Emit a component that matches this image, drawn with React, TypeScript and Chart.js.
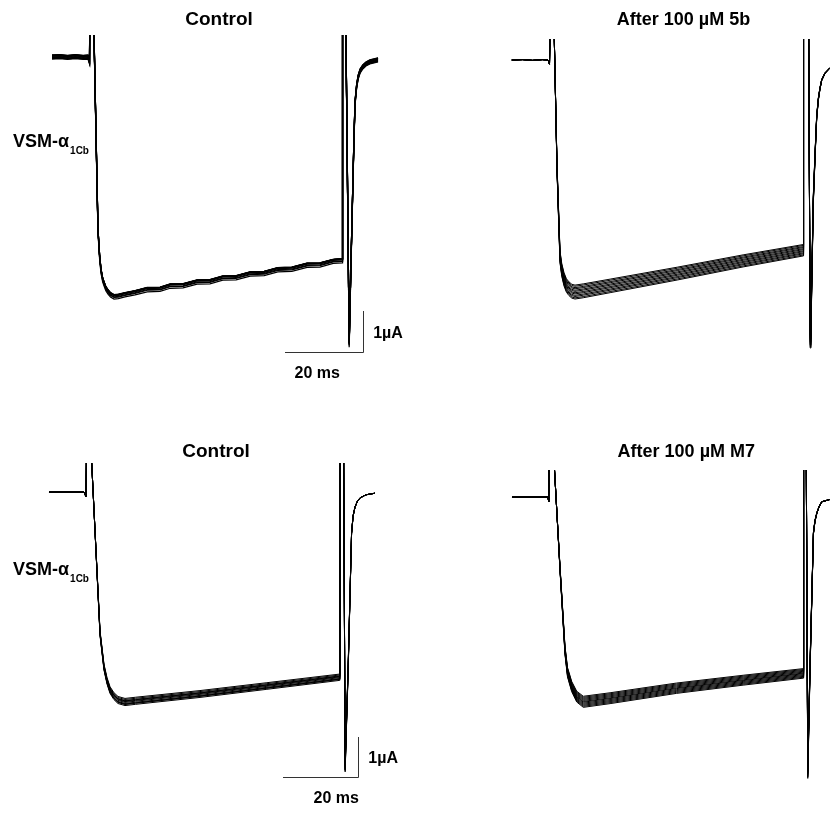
import React, { useEffect, useRef } from "react";
import { Chart, registerables } from "chart.js";
Chart.register(...registerables);

// ---------------- data (time in ms, current in µA) ----------------
const TL_TIME = [-10, -8, -6, -4, -2, -0.77, -0.38, -0.18, 0.6, 0.77, 1.79, 2.2, 2.56, 3.0, 3.33, 3.8, 4.36, 5.0, 5.9, 7.0, 8.7, 11.3, 14.4, 17.7, 20.3, 23.6, 27.2, 30.5, 33.8, 37.2, 40.8, 44.4, 47.9, 51.5, 55.4, 58.7, 62.1, 64.4, 64.5, 65.1, 66.2, 66.6, 67.05, 67.4, 67.7, 68.1, 68.5, 69.0, 69.7, 70.5, 71.5, 73.6];
const TL_CURRENT = [0, 0.01, -0.01, 0.01, -0.01, 0, -0.12, 3, 3, 0.54, -4.22, -4.85, -5.2, -5.42, -5.51, -5.63, -5.71, -5.78, -5.83, -5.82, -5.78, -5.73, -5.654, -5.646, -5.568, -5.56, -5.468, -5.46, -5.372, -5.364, -5.272, -5.26, -5.168, -5.156, -5.06, -5.052, -4.964, -4.95, 3, 3, -7.0, -5.3, -3.49, -2.1, -1.12, -0.72, -0.49, -0.34, -0.24, -0.17, -0.12, -0.07];
const TL_SWEEP_SCALE = [1.006, 1.004, 1.002, 1.0, 0.998, 0.996, 0.994, 1.001, 0.999, 1.003];
const TL_SWEEP_OFFSET = [0.05, -0.05, 0.035, -0.035, 0.015, -0.015, 0.0, 0.025, -0.025, 0.045];

const TR_TIME = [-10.3, -7.5, -5, -2.5, -1.03, -0.64, -0.13, 0.44, 0.59, 1.28, 2.05, 2.5, 3.08, 3.7, 4.36, 5.1, 5.9, 8.0, 14.9, 32.1, 49.0, 64.4, 64.5, 65.7, 66.2, 66.4, 67.0, 67.5, 67.87, 68.3, 68.7, 69.15, 70.0, 71.3, 73.5, 76.4];
const TR_CURRENT = [0, 0.01, -0.01, 0.01, 0, -0.1, 3, 3, 0.51, -2.61, -4.8, -5.12, -5.35, -5.5, -5.58, -5.64, -5.66, -5.63, -5.51, -5.21, -4.9, -4.64, 3, 3, -6.82, -6.45, -3.41, -2.2, -1.39, -0.95, -0.7, -0.49, -0.32, -0.19, -0.1, -0.05];
const TR_SWEEP_SCALE = [1.03, 1.025, 1.019, 1.014, 1.008, 1.003, 0.997, 0.992, 0.986, 0.981, 0.975, 0.97];
const TR_SWEEP_OFFSET = [0, 0, 0, 0, 0, 0, 0, 0, 0, 0, 0, 0];

const BL_TIME = [-10.85, -1.59, -1.06, -0.71, 0.19, 0.45, 2.65, 3.7, 4.5, 5.29, 6.3, 7.41, 9.26, 12.0, 29.1, 46.8, 66.1, 66.2, 67.0, 67.5, 68.3, 69.2, 69.6, 70.1, 70.7, 71.4, 73.0, 75.4];
const BL_CURRENT = [0, 0, -0.12, 3, 3, 0.73, -3.53, -4.38, -4.72, -4.95, -5.1, -5.2, -5.25, -5.22, -5.05, -4.85, -4.63, 3, 3, -6.88, -4.38, -1.03, -0.6, -0.38, -0.24, -0.15, -0.07, -0.03];
const BL_SWEEP_SCALE = [1.017, 1.012, 1.007, 1.002, 0.998, 0.993, 0.988, 0.983, 1.01, 0.995];
const BL_SWEEP_OFFSET = [0, 0, 0, 0, 0, 0, 0, 0, 0, 0];

const BR_TIME = [-10.85, -1.32, -1.14, -0.79, 0.13, 0.4, 1.85, 3.17, 3.84, 4.95, 6.27, 8.02, 15.1, 32.7, 50.3, 66.2, 66.3, 66.9, 67.4, 68.0, 68.9, 69.3, 69.8, 70.4, 71.1, 73.3, 77.2];
const BR_CURRENT = [0, 0, -0.12, 3, 3, 0.68, -1.78, -3.83, -4.38, -4.74, -4.99, -5.12, -5.03, -4.78, -4.58, -4.41, 3, 3, -6.85, -4.24, -0.9, -0.6, -0.4, -0.24, -0.12, -0.06, -0.03];
const BR_SWEEP_SCALE = [1.027, 1.022, 1.017, 1.012, 1.007, 1.002, 0.998, 0.993, 0.988, 0.983, 0.978, 0.973];
const BR_SWEEP_OFFSET = [0, 0, 0, 0, 0, 0, 0, 0, 0, 0, 0, 0];

const TITLES = ["Control", "After 100 µM 5b", "Control", "After 100 µM M7"];
const ROW_LABEL = "VSM-α";
const ROW_LABEL_SUB = "1Cb";
const BAR_MS = 20;
const BAR_UA = 1;
const BAR_MS_LABEL = "20 ms";
const BAR_UA_LABEL = "1µA";
// scale-bar corner (time ms, current µA)
const TL_BAR_CORNER = [69.8, -7.19];
const BL_BAR_CORNER = [70.98, -7.12];

// ---------------- layout ----------------
type PanelCfg = {
  left: number; top: number; width: number; height: number;
  originX: number; originY: number; pxPerMs: number; pxPerUA: number; clipTop: number;
  time: number[]; current: number[]; sweepScale: number[]; sweepOffset: number[];
  title: string; titleSize: number; titleX: number; titleY: number;
  label?: { x: number; y: number };
  bar?: { corner: number[]; msDx: number };
  lineWidth: number;
};

const FONT = '"Liberation Sans", Arial, Helvetica, sans-serif';

const PANELS: PanelCfg[] = [
  {
    left: 0, top: 0, width: 415, height: 400,
    originX: 91, originY: 57, pxPerMs: 3.9, pxPerUA: 41, clipTop: 35,
    time: TL_TIME, current: TL_CURRENT, sweepScale: TL_SWEEP_SCALE, sweepOffset: TL_SWEEP_OFFSET,
    title: TITLES[0], titleSize: 19, titleX: 219, titleY: 25,
    label: { x: 13, y: 147 },
    bar: { corner: TL_BAR_CORNER, msDx: -46 },
    lineWidth: 1.25,
  },
  {
    left: 415, top: 0, width: 415, height: 400,
    originX: 137, originY: 60, pxPerMs: 3.9, pxPerUA: 41, clipTop: 39,
    time: TR_TIME, current: TR_CURRENT, sweepScale: TR_SWEEP_SCALE, sweepOffset: TR_SWEEP_OFFSET,
    title: TITLES[1], titleSize: 18, titleX: 268.5, titleY: 25,
    lineWidth: 1,
  },
  {
    left: 0, top: 400, width: 415, height: 413,
    originX: 90, originY: 92, pxPerMs: 3.78, pxPerUA: 40, clipTop: 63,
    time: BL_TIME, current: BL_CURRENT, sweepScale: BL_SWEEP_SCALE, sweepOffset: BL_SWEEP_OFFSET,
    title: TITLES[2], titleSize: 19, titleX: 216, titleY: 57,
    label: { x: 13, y: 175 },
    bar: { corner: BL_BAR_CORNER, msDx: -22 },
    lineWidth: 1,
  },
  {
    left: 415, top: 400, width: 415, height: 413,
    originX: 138, originY: 97, pxPerMs: 3.78, pxPerUA: 40, clipTop: 70,
    time: BR_TIME, current: BR_CURRENT, sweepScale: BR_SWEEP_SCALE, sweepOffset: BR_SWEEP_OFFSET,
    title: TITLES[3], titleSize: 18, titleX: 271.3, titleY: 57,
    lineWidth: 1,
  },
];

function makeDecorPlugin(cfg: PanelCfg) {
  return {
    id: "decor",
    afterDraw(chart: any) {
      const ctx = chart.ctx as CanvasRenderingContext2D;
      const xs = chart.scales.x;
      const ys = chart.scales.y;
      ctx.save();
      ctx.fillStyle = "#000";
      ctx.font = `bold ${cfg.titleSize}px ${FONT}`;
      ctx.textAlign = "center";
      ctx.textBaseline = "alphabetic";
      ctx.fillText(cfg.title, cfg.titleX, cfg.titleY);
      if (cfg.label) {
        ctx.textAlign = "left";
        ctx.font = `bold 18px ${FONT}`;
        ctx.fillText(ROW_LABEL, cfg.label.x, cfg.label.y);
        const w = ctx.measureText(ROW_LABEL).width;
        ctx.font = `bold 10px ${FONT}`;
        ctx.fillText(ROW_LABEL_SUB, cfg.label.x + w + 1, cfg.label.y + 7);
      }
      if (cfg.bar) {
        const [ct, ci] = cfg.bar.corner;
        const cx = xs.getPixelForValue(ct);
        const cy = ys.getPixelForValue(ci);
        const lx = xs.getPixelForValue(ct - BAR_MS);
        const ty = ys.getPixelForValue(ci + BAR_UA);
        ctx.strokeStyle = "#333";
        ctx.lineWidth = 1;
        ctx.beginPath();
        ctx.moveTo(Math.round(lx), Math.round(cy) + 0.5);
        ctx.lineTo(Math.round(cx) + 0.5, Math.round(cy) + 0.5);
        ctx.lineTo(Math.round(cx) + 0.5, Math.round(ty));
        ctx.stroke();
        ctx.font = `bold 16px ${FONT}`;
        ctx.textAlign = "left";
        ctx.textBaseline = "middle";
        ctx.fillText(BAR_UA_LABEL, cx + 10, cy - 18);
        ctx.textAlign = "center";
        ctx.fillText(BAR_MS_LABEL, cx + cfg.bar.msDx, cy + 22);
      }
      ctx.restore();
    },
  };
}

function Panel({ cfg }: { cfg: PanelCfg }) {
  const ref = useRef<HTMLCanvasElement | null>(null);
  useEffect(() => {
    if (!ref.current) return;
    const xMin = -cfg.originX / cfg.pxPerMs;
    const xMax = (cfg.width - cfg.originX) / cfg.pxPerMs;
    const yMax = (cfg.originY - cfg.clipTop) / cfg.pxPerUA;
    const yMin = -(cfg.height - cfg.originY) / cfg.pxPerUA;
    const datasets = cfg.sweepScale.map((s, k) => ({
      data: cfg.time.map((t, i) => ({ x: t, y: cfg.current[i] * s + (cfg.sweepOffset[k] || 0) })),
      borderColor: "#000",
      borderWidth: cfg.lineWidth,
      pointRadius: 0,
      fill: false,
      tension: 0,
      clip: 0,
    }));
    const chart = new Chart(ref.current, {
      type: "line",
      data: { datasets },
      options: {
        animation: false,
        responsive: false,
        devicePixelRatio: 1,
        events: [],
        layout: { padding: { top: cfg.clipTop, left: 0, right: 0, bottom: 0 } },
        scales: {
          x: { type: "linear", min: xMin, max: xMax, display: false },
          y: { type: "linear", min: yMin, max: yMax, display: false },
        },
        plugins: { legend: { display: false }, tooltip: { enabled: false }, title: { display: false } },
      },
      plugins: [makeDecorPlugin(cfg)],
    });
    return () => chart.destroy();
  }, [cfg]);
  return (
    <canvas
      ref={ref}
      width={cfg.width}
      height={cfg.height}
      style={{ position: "absolute", left: cfg.left, top: cfg.top, width: cfg.width, height: cfg.height }}
    />
  );
}

export default function App() {
  return (
    <div style={{ position: "absolute", left: 0, top: 0, width: 830, height: 813, background: "#fff", overflow: "hidden" }}>
      {PANELS.map((p, i) => (
        <Panel key={i} cfg={p} />
      ))}
    </div>
  );
}
